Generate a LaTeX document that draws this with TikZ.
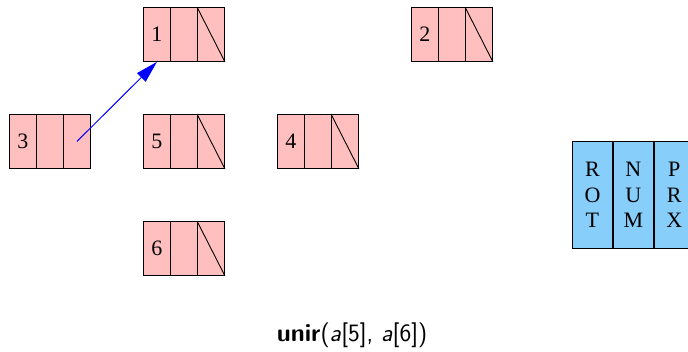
\documentclass[tikz,border=0pt]{standalone}
\usepackage{fontspec}
\newfontfamily\timesf{Liberation Serif}
\usetikzlibrary{arrows.meta}
\definecolor{cellpink}{RGB}{255,191,191}
\definecolor{legblue}{RGB}{135,206,250}
\tikzset{
  cell/.style={draw=black, fill=cellpink, line width=0.9pt, minimum width=27pt, minimum height=54pt, inner sep=0pt, anchor=north west, font=\timesf\fontsize{22}{24}\selectfont},
  legcell/.style={draw=black, fill=legblue, line width=0.9pt, minimum width=40pt, minimum height=107pt, inner sep=0pt, anchor=north west, align=center, font=\timesf\fontsize{22}{25.5}\selectfont},
  link/.style={draw=blue, line width=1pt, -{Triangle[length=22pt,width=12pt]}},
}
% record: name, x, y (pixels from top-left), label, diagonal?
\newcommand\recbox[5]{%
  \node[cell] (#1a) at (#2pt,-#3pt) {#4};
  \node[cell] (#1b) at ([xshift=27pt]#1a.north west) {};
  \node[cell] (#1c) at ([xshift=27pt]#1b.north west) {};
  \ifnum#5=1 \draw[line width=0.9pt] (#1c.north west) -- (#1c.south east);\fi
}
\begin{document}
\begin{tikzpicture}[x=1pt,y=1pt]
\useasboundingbox (0,0) rectangle (688,-352);
\clip (0,0) rectangle (688,-352);
\recbox{one}{143}{7}{1}{1}
\recbox{two}{411}{7}{2}{1}
\recbox{three}{9}{114}{3}{0}
\recbox{five}{143}{114}{5}{1}
\recbox{four}{277}{114}{4}{1}
\recbox{six}{143}{221}{6}{1}
\node[legcell] (rot) at (572,-141) {R\\O\\T};
\node[legcell] (num) at (rot.north east) {N\\U\\M};
\node[legcell] (prx) at (num.north east) {P\\R\\X};
\path[link] (threec.center) -- (onea.south);
\node[font=\sffamily\fontsize{25}{28}\selectfont, anchor=base] (caption) at (352,-342) {\textbf{unir}(\textsl{a}[5], \textsl{a}[6])};
\end{tikzpicture}
\end{document}
